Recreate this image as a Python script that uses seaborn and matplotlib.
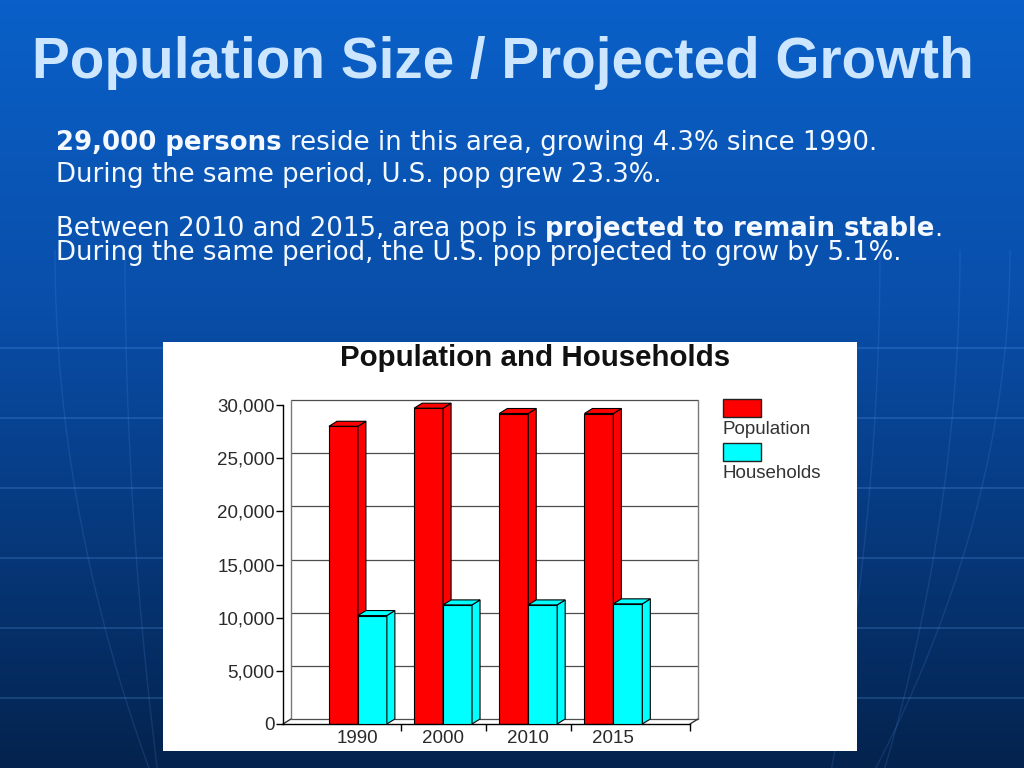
import numpy as np
import pandas as pd
import matplotlib
matplotlib.use("Agg")
import matplotlib.pyplot as plt
import seaborn as sns
from matplotlib.patches import Polygon, Rectangle
from matplotlib.colors import LinearSegmentedColormap
from matplotlib.ticker import FuncFormatter, FixedLocator

# =========================
# DATA
# =========================
years = ["1990", "2000", "2010", "2015"]
population = [28000, 29700, 29200, 29200]
households = [10200, 11200, 11200, 11300]
series_names = ["Population", "Households"]
series_colors = ["#ff0000", "#00ffff"]
y_ticks = [0, 5000, 10000, 15000, 20000, 25000, 30000]

slide_title = "Population Size / Projected Growth"
chart_title = "Population and Households"

df = pd.DataFrame({
    "Year": years * 2,
    "Series": [series_names[0]] * len(years) + [series_names[1]] * len(years),
    "Value": population + households,
})

sns.set_theme(style="white")
plt.rcParams["font.family"] = ["Liberation Sans", "DejaVu Sans"]

W, H = 1024, 768
fig = plt.figure(figsize=(10.24, 7.68), dpi=100)
renderer = fig.canvas.get_renderer()

# =========================
# SLIDE BACKGROUND
# =========================
bg = fig.add_axes([0, 0, 1, 1])
bg.set_xlim(0, W)
bg.set_ylim(H, 0)
bg.axis("off")

cmap = LinearSegmentedColormap.from_list(
    "slide", [(0, "#0a60c8"), (0.4, "#094ea9"), (1.0, "#04234e")]
)
grad = np.linspace(0, 1, 256).reshape(-1, 1)
bg.imshow(grad, cmap=cmap, extent=[0, W, H, 0], aspect="auto", zorder=0)

# faint globe grid
for yl in range(348, 700, 70):
    bg.plot([0, W], [yl, yl], color="#5a9cf0", alpha=0.28, lw=1.2, zorder=1)
yy = np.linspace(250, H, 100)
for x0, k in [(55, 0.00035), (125, 0.00012), (880, -0.00018), (960, -0.00028), (1010, -0.0005)]:
    bg.plot(x0 + k * (yy - 250) ** 2, yy, color="#5a9cf0", alpha=0.16, lw=1.0, zorder=1)

# white chart panel
bg.add_patch(Rectangle((163, 342), 694, 409, facecolor="white", edgecolor="none", zorder=5))

# =========================
# TEXT
# =========================
t = bg.text(503, 78, slide_title, ha="center", va="baseline", color="#cde6ff",
            fontsize=40, fontweight="bold", family=["Liberation Sans", "DejaVu Sans"], zorder=6)
t.set_fontsize(t.get_fontsize() * 940 / t.get_window_extent(renderer).width)

body_color = "#f4f9ff"
probe = bg.text(0, -100, "During the same period, U.S. pop grew 23.3%.",
                fontsize=16, family="DejaVu Sans")
body_size = 16 * 607 / probe.get_window_extent(renderer).width
probe.remove()
space_w = body_size * 100 / 72 * 0.318


def put_runs(x, y, runs):
    for txt, weight in runs:
        if txt.startswith(" "):
            x += space_w
            txt = txt[1:]
        tt = bg.text(x, y, txt, fontsize=body_size, fontweight=weight, color=body_color,
                     family="DejaVu Sans", ha="left", va="baseline", zorder=6)
        x += tt.get_window_extent(renderer).width


put_runs(56, 150, [("29,000 persons", "bold"),
                   (" reside in this area, growing 4.3% since 1990.", "normal")])
put_runs(56, 182, [("During the same period, U.S. pop grew 23.3%.", "normal")])
put_runs(56, 236, [("Between 2010 and 2015, area pop is", "normal"),
                   (" projected to remain stable", "bold"),
                   (".", "normal")])
put_runs(56, 260, [("During the same period, the U.S. pop projected to grow by 5.1%.", "normal")])

# chart title
ct = bg.text(535, 366, chart_title, ha="center", va="baseline", color="#111111",
             fontsize=18, fontweight="bold",
             family=["Liberation Sans Narrow", "Liberation Sans", "DejaVu Sans"], zorder=6)
ct.set_fontsize(ct.get_fontsize() * 391 / ct.get_window_extent(renderer).width)

# legend
legend_y = [399, 443]
for name, col, ly in zip(series_names, series_colors, legend_y):
    bg.add_patch(Rectangle((723, ly), 38, 18, facecolor=col, edgecolor="#222222", lw=1, zorder=6))
    bg.text(723, ly + 31, name, ha="left", va="center", fontsize=13.5, color="#333333", zorder=6)

# =========================
# BAR CHART
# =========================
ax = fig.add_axes([283 / W, 1 - 724 / H, 407 / W, 319 / H])
ax.set_zorder(2)
ax.patch.set_alpha(0)

sns.barplot(
    data=df, x="Year", y="Value", hue="Series",
    palette=series_colors, saturation=1, width=0.68,
    edgecolor="black", linewidth=0.8, legend=False, ax=ax,
)

xmin, xmax = -0.88, 3.9
ax.set_xlim(xmin, xmax)
ax.set_ylim(0, 30000)

# 3D depth offset in data units (8 px right, 5 px up)
p0 = ax.transData.transform((0, 0))
dx, dy = ax.transData.inverted().transform(p0 + np.array([8, 5]))

# back wall grid and edges
for v in y_ticks:
    ax.plot([xmin + dx, xmax + dx], [v + dy, v + dy], color="#4d4d4d", lw=0.9,
            zorder=0.5, clip_on=False)
for xe in [xmin + dx, xmax + dx]:
    ax.plot([xe, xe], [dy, 30000 + dy], color="#7a7a7a", lw=1.0, zorder=0.5, clip_on=False)

# floor
ax.plot([xmax, xmax + dx], [0, dy], color="#333333", lw=1.0, zorder=0.6, clip_on=False)
ax.plot([xmin, xmin + dx], [0, dy], color="#333333", lw=1.0, zorder=0.6, clip_on=False)

# depth faces for each bar
n = len(years)
for i, p in enumerate(ax.patches):
    z = 2 if i < n else 3
    p.set_zorder(z)
    x0, w, h = p.get_x(), p.get_width(), p.get_height()
    col = p.get_facecolor()
    side = [(x0 + w, 0), (x0 + w + dx, dy), (x0 + w + dx, h + dy), (x0 + w, h)]
    top = [(x0, h), (x0 + dx, h + dy), (x0 + w + dx, h + dy), (x0 + w, h)]
    for poly in (side, top):
        ax.add_patch(Polygon(poly, closed=True, facecolor=col, edgecolor="black",
                             lw=0.8, zorder=z + 0.1, clip_on=False))

for s in ["top", "right"]:
    ax.spines[s].set_visible(False)
for s in ["left", "bottom"]:
    ax.spines[s].set_color("black")
    ax.spines[s].set_linewidth(1.0)

ax.yaxis.set_major_locator(FixedLocator(y_ticks))
ax.yaxis.set_major_formatter(FuncFormatter(lambda v, _: f"{int(v):,}"))
ax.tick_params(axis="y", direction="out", length=5, width=1, color="black",
               labelsize=13.5, labelcolor="#2a2a2a", pad=1, left=True)
ax.set_xticks(range(n))
ax.set_xticklabels(years)
ax.tick_params(axis="x", which="major", length=0, labelsize=13.5, labelcolor="#2a2a2a", pad=4)
ax.xaxis.set_minor_locator(FixedLocator([0.5, 1.5, 2.5, xmax]))
ax.tick_params(axis="x", which="minor", direction="out", length=5, width=1,
               color="black", bottom=True)
ax.set_xlabel("")
ax.set_ylabel("")
ax.grid(False)

fig.savefig("out.png", dpi=100)
plt.close(fig)
